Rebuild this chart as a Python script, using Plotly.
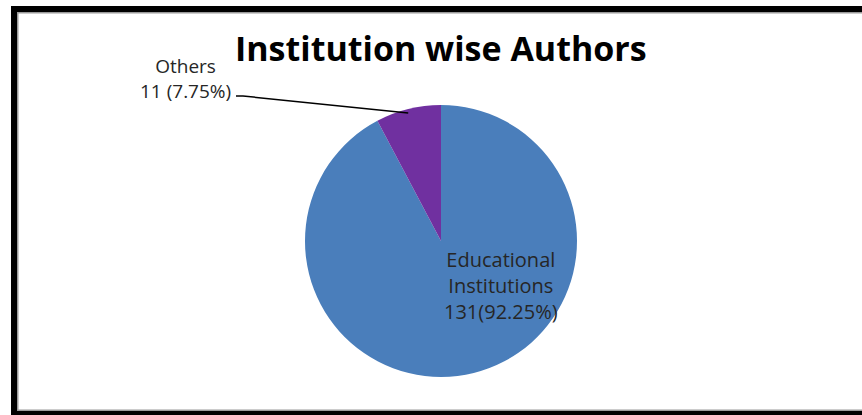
import math
import plotly.graph_objects as go

# ---- data ----
categories = ["Educational Institutions", "Others"]
label_lines = [["Educational", "Institutions"], ["Others"]]
values = [131, 11]
colors = ["#4A7EBB", "#7030A0"]
title_text = "Institution wise Authors"

W, H = 862, 415
total = sum(values)
pcts = [v / total * 100 for v in values]

# pie geometry (pixels, from top-left)
cx, cy, r = 441, 241, 136

fig = go.Figure()
fig.add_trace(go.Pie(
    labels=categories,
    values=values,
    sort=False,
    direction="clockwise",
    rotation=0,
    marker=dict(colors=colors, line=dict(width=0)),
    textinfo="none",
    hoverinfo="label+value+percent",
    showlegend=False,
    domain=dict(x=[(cx - r) / W, (cx + r) / W], y=[1 - (cy + r) / H, 1 - (cy - r) / H]),
))

font_fam = "'Open Sans', Lato, sans-serif"
txt_col = "#262626"

# inside label for Educational Institutions
edu_text = "<br>".join(label_lines[0] + [f"{values[0]}({pcts[0]:.2f}%)"])
fig.add_annotation(
    x=501 / W, y=1 - 285 / H, xref="paper", yref="paper",
    text=edu_text, showarrow=False, align="center",
    font=dict(family=font_fam, size=20, color=txt_col),
    xanchor="center", yanchor="middle",
)

# outside label for Others
oth_text = "<br>".join(label_lines[1] + [f"{values[1]} ({pcts[1]:.2f}%)"])
fig.add_annotation(
    x=233 / W, y=1 - 78 / H, xref="paper", yref="paper",
    text=oth_text, showarrow=False, align="center",
    font=dict(family=font_fam, size=19, color=txt_col),
    xanchor="right", yanchor="middle",
)

# leader line to the Others slice (mid-angle of the slice, on the rim)
mid = -(values[1] / total) * 360 / 2
ex = cx + r * math.sin(math.radians(mid))
ey = cy - r * math.cos(math.radians(mid)) + 4
fig.add_shape(
    type="path", xref="paper", yref="paper",
    path=f"M {236/W},{1-96/H} L {243/W},{1-96/H} L {ex/W},{1-ey/H}",
    line=dict(color="black", width=1.5),
)

# title
fig.add_annotation(
    x=441 / W, y=1 - 48 / H, xref="paper", yref="paper",
    text=f"<b>{title_text}</b>", showarrow=False,
    font=dict(family=font_fam, size=34, color="black"),
    xanchor="center", yanchor="middle",
)

# frame: black borders with thin gray inner edge
def rect(x0, y0, x1, y1, color):
    fig.add_shape(type="rect", xref="paper", yref="paper",
                  x0=x0 / W, x1=x1 / W, y0=1 - y1 / H, y1=1 - y0 / H,
                  fillcolor=color, line=dict(width=0), layer="above")

rect(11, 6, W, 12, "black")        # top
rect(11, 6, 17, H, "black")        # left
rect(11, 411, W, H, "black")       # bottom
rect(17, 12, W, 13.5, "#9a9a9a")   # top inner gray
rect(17, 12, 18.5, 411, "#9a9a9a") # left inner gray
rect(17, 409.5, W, 411, "#9a9a9a") # bottom inner gray

fig.update_layout(
    width=W, height=H,
    margin=dict(l=0, r=0, t=0, b=0),
    paper_bgcolor="white", plot_bgcolor="white",
)

fig.write_html("out.html")
